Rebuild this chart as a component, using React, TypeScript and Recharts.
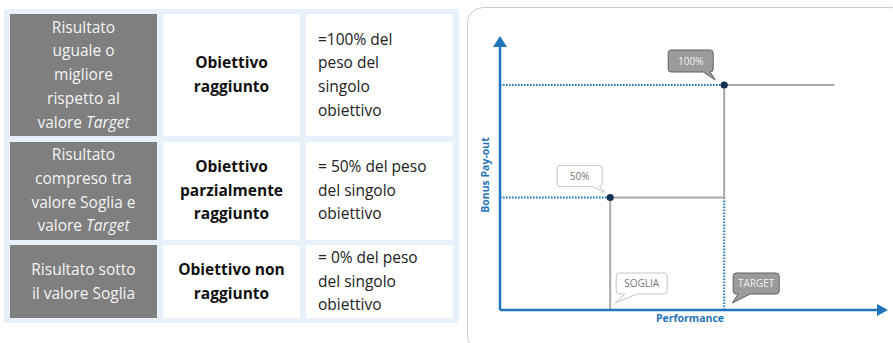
import React from 'react';
import { LineChart, Line, XAxis, YAxis, ReferenceLine, ReferenceDot, Label } from 'recharts';

// soglia e target sull'asse performance, con il pay-out corrispondente
const sogliaTargetNomi = ['SOGLIA', 'TARGET'];
const sogliaTargetPerf = [29, 59];
const payoutLivelli = [50, 100];
const payoutEtichette = ['50%', '100%'];

// curva di pay-out a gradini
const curvaPerf = [29, 29, 59, 59, 88];
const curvaPayout = [0, 50, 50, 100, 100];

const PERF_MAX = 100;
const PAYOUT_MAX = 120;

const curva = curvaPerf.map((x, i) => ({ x, y: curvaPayout[i] }));

const BLU = '#1f74bb';
const FONT = '"Open Sans", "Noto Sans", sans-serif';

interface PropsFumetto {
  cx: number;
  cy: number;
  dx: number;
  dy: number;
  w: number;
  h: number;
  b1: number;
  b2: number;
  tx: number;
  ty: number;
  testo: string;
  scuro?: boolean;
}

const Fumetto = ({ cx, cy, dx, dy, w, h, b1, b2, tx, ty, testo, scuro }: PropsFumetto) => {
  const x = cx + dx;
  const y = cy + dy;
  const r = 3;
  const d = [
    `M${x + r},${y}`,
    `H${x + w - r}`,
    `Q${x + w},${y} ${x + w},${y + r}`,
    `V${y + h - r}`,
    `Q${x + w},${y + h} ${x + w - r},${y + h}`,
    `H${cx + b2}`,
    `L${cx + tx},${cy + ty}`,
    `L${cx + b1},${y + h}`,
    `H${x + r}`,
    `Q${x},${y + h} ${x},${y + h - r}`,
    `V${y + r}`,
    `Q${x},${y} ${x + r},${y}`,
    'Z',
  ].join(' ');
  return (
    <g>
      <path d={d} fill={scuro ? '#9b9b9b' : '#ffffff'} stroke={scuro ? '#606060' : '#c6c6c6'} strokeWidth={1} />
      <text
        x={x + w / 2}
        y={y + h / 2 + 3.6}
        textAnchor="middle"
        fontSize={10}
        fontFamily={FONT}
        fill={scuro ? '#f0f0f0' : '#777777'}
      >
        {testo}
      </text>
    </g>
  );
};

const Grafico = () => (
  <LineChart width={426} height={343} margin={{ top: 40, right: 13, left: 3, bottom: 3 }}>
    <XAxis
      type="number"
      dataKey="x"
      domain={[0, PERF_MAX]}
      allowDataOverflow
      tick={false}
      tickLine={false}
      height={30}
      axisLine={{ stroke: BLU, strokeWidth: 2.5 }}
    >
      <Label value="Performance" position="insideTop" offset={5} fill={BLU} fontSize={10.5} fontWeight={700} fontFamily={FONT} />
    </XAxis>
    <YAxis
      type="number"
      dataKey="y"
      domain={[0, PAYOUT_MAX]}
      allowDataOverflow
      tick={false}
      tickLine={false}
      width={30}
      axisLine={{ stroke: BLU, strokeWidth: 2.5 }}
    >
      <Label value="Bonus Pay-out" position="center" angle={-90} fill={BLU} fontSize={10.5} fontWeight={700} fontFamily={FONT} />
    </YAxis>

    {/* tratteggi blu verso gli assi */}
    {sogliaTargetPerf.map((p, i) => (
      <ReferenceLine
        key={`h-${i}`}
        segment={[{ x: 0, y: payoutLivelli[i] }, { x: p, y: payoutLivelli[i] }]}
        stroke={BLU}
        strokeWidth={2}
        strokeDasharray="1.6 1.4"
        ifOverflow="visible"
      />
    ))}
    <ReferenceLine
      segment={[{ x: sogliaTargetPerf[1], y: 0 }, { x: sogliaTargetPerf[1], y: payoutLivelli[0] }]}
      stroke={BLU}
      strokeWidth={2}
      strokeDasharray="1.6 1.4"
      ifOverflow="visible"
    />

    <Line data={curva} dataKey="y" type="linear" stroke="#a9a9a9" strokeWidth={2} dot={false} isAnimationActive={false} />

    {/* frecce degli assi */}
    <ReferenceDot
      x={0}
      y={PAYOUT_MAX}
      r={1}
      ifOverflow="visible"
      shape={(p: any) => <polygon points={`${p.cx},${p.cy - 4} ${p.cx - 7},${p.cy + 7} ${p.cx + 7},${p.cy + 7}`} fill={BLU} />}
    />
    <ReferenceDot
      x={PERF_MAX}
      y={0}
      r={1}
      ifOverflow="visible"
      shape={(p: any) => <polygon points={`${p.cx - 3},${p.cy - 6} ${p.cx + 8},${p.cy} ${p.cx - 3},${p.cy + 6}`} fill={BLU} />}
    />

    {sogliaTargetPerf.map((p, i) => (
      <ReferenceDot key={`pt-${i}`} x={p} y={payoutLivelli[i]} r={3.6} fill="#14304f" stroke="none" ifOverflow="visible" />
    ))}

    {/* etichette */}
    <ReferenceDot
      x={sogliaTargetPerf[0]}
      y={payoutLivelli[0]}
      r={1}
      ifOverflow="visible"
      shape={(p: any) => (
        <Fumetto cx={p.cx} cy={p.cy} dx={-53} dy={-32} w={45} h={21} b1={-18} b2={-11} tx={-5} ty={-5} testo={payoutEtichette[0]} />
      )}
    />
    <ReferenceDot
      x={sogliaTargetPerf[1]}
      y={payoutLivelli[1]}
      r={1}
      ifOverflow="visible"
      shape={(p: any) => (
        <Fumetto cx={p.cx} cy={p.cy} dx={-56} dy={-35} w={45} h={22} b1={-21} b2={-14} tx={-9} ty={-5} testo={payoutEtichette[1]} scuro />
      )}
    />
    <ReferenceDot
      x={sogliaTargetPerf[0]}
      y={0}
      r={1}
      ifOverflow="visible"
      shape={(p: any) => (
        <Fumetto cx={p.cx} cy={p.cy} dx={6} dy={-37} w={51} h={21} b1={15} b2={27} tx={5} ty={-7} testo={sogliaTargetNomi[0]} />
      )}
    />
    <ReferenceDot
      x={sogliaTargetPerf[1]}
      y={0}
      r={1}
      ifOverflow="visible"
      shape={(p: any) => (
        <Fumetto cx={p.cx} cy={p.cy} dx={9} dy={-37} w={46} h={21} b1={14} b2={26} tx={8} ty={-7} testo={sogliaTargetNomi[1]} scuro />
      )}
    />
  </LineChart>
);

const cellaGrigia: React.CSSProperties = {
  background: '#7f7f7f',
  color: '#f4f4f4',
  display: 'flex',
  alignItems: 'center',
  justifyContent: 'center',
  textAlign: 'center',
};
const cellaCentro: React.CSSProperties = {
  background: '#ffffff',
  color: '#111111',
  fontWeight: 700,
  display: 'flex',
  alignItems: 'center',
  justifyContent: 'center',
  textAlign: 'center',
};
const cellaDestra: React.CSSProperties = {
  background: '#ffffff',
  color: '#222222',
  display: 'flex',
  alignItems: 'center',
  paddingLeft: 12,
};

const Tabella = () => (
  <div
    style={{
      position: 'absolute',
      left: 4,
      top: 9,
      width: 455,
      height: 314,
      boxSizing: 'border-box',
      padding: '5px 6px',
      background: '#e8f0fb',
      display: 'grid',
      gridTemplateColumns: '147px 137px 147px',
      gridTemplateRows: '122px 98px 73px',
      columnGap: 6,
      rowGap: 5.5,
      fontFamily: FONT,
      fontSize: 15.5,
      fontWeight: 500,
      lineHeight: '23.7px',
    }}
  >
    <div style={cellaGrigia}>
      <div>Risultato<br />uguale o<br />migliore<br />rispetto al<br />valore <i>Target</i></div>
    </div>
    <div style={cellaCentro}>
      <div>Obiettivo<br />raggiunto</div>
    </div>
    <div style={cellaDestra}>
      <div>=100% del<br />peso del<br />singolo<br />obiettivo</div>
    </div>

    <div style={cellaGrigia}>
      <div>Risultato<br />compreso tra<br />valore Soglia e<br />valore <i>Target</i></div>
    </div>
    <div style={cellaCentro}>
      <div>Obiettivo<br />parzialmente<br />raggiunto</div>
    </div>
    <div style={cellaDestra}>
      <div>= 50% del peso<br />del singolo<br />obiettivo</div>
    </div>

    <div style={cellaGrigia}>
      <div>Risultato sotto<br />il valore Soglia</div>
    </div>
    <div style={cellaCentro}>
      <div>Obiettivo non<br />raggiunto</div>
    </div>
    <div style={cellaDestra}>
      <div>= 0% del peso<br />del singolo<br />obiettivo</div>
    </div>
  </div>
);

export default function App() {
  return (
    <div style={{ position: 'fixed', left: 0, top: 0, width: 893, height: 343, overflow: 'hidden', background: '#ffffff' }}>
      <Tabella />
      <div
        style={{
          position: 'absolute',
          left: 467,
          top: 7,
          width: 440,
          height: 345,
          border: '1px solid #c9c9c9',
          borderRadius: 16,
          boxSizing: 'border-box',
        }}
      />
      <div style={{ position: 'absolute', left: 467, top: 0 }}>
        <Grafico />
      </div>
    </div>
  );
}
